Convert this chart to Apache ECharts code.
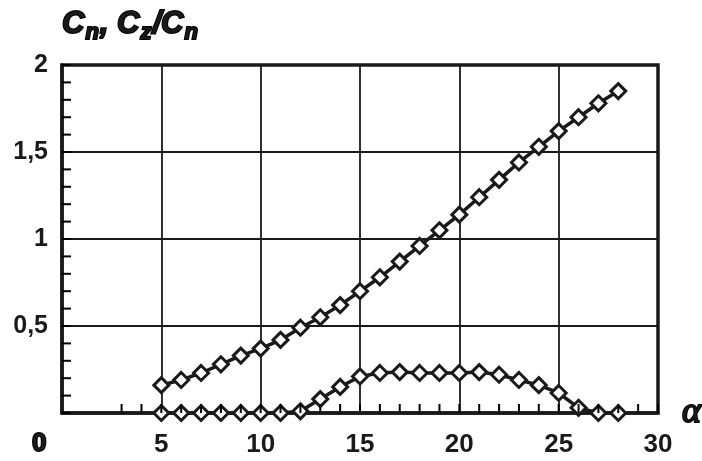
<!DOCTYPE html>
<html>
<head>
<meta charset="utf-8">
<script src="https://cdn.jsdelivr.net/npm/echarts@6/dist/echarts.min.js"></script>
<style>
  html, body { margin: 0; padding: 0; background: #fff; }
  #main { width: 702px; height: 461px; }
</style>
</head>
<body>
<div id="main"></div>
<script>
// angle of attack, deg
var alpha = [5, 6, 7, 8, 9, 10, 11, 12, 13, 14, 15, 16, 17, 18, 19, 20, 21, 22, 23, 24, 25, 26, 27, 28];
// upper curve Cn
var cn = [0.16, 0.19, 0.23, 0.28, 0.33, 0.37, 0.42, 0.49, 0.55, 0.62, 0.70, 0.78, 0.87, 0.96, 1.05, 1.14, 1.24, 1.34, 1.44, 1.53, 1.62, 1.70, 1.78, 1.85];
// lower curve Cz/Cn
var czcn = [0, 0, 0, 0, 0, 0, 0, 0.01, 0.08, 0.15, 0.21, 0.23, 0.235, 0.23, 0.23, 0.23, 0.235, 0.22, 0.19, 0.16, 0.115, 0.03, 0, 0];
var xTicks = [0, 5, 10, 15, 20, 25, 30];
var yTicks = [0, 0.5, 1, 1.5, 2];

var chart = echarts.init(document.getElementById('main'));

function pairs(ys) {
    return alpha.map(function (a, i) { return [a, ys[i]]; });
}

var ink = '#1a1a1a';
var lineStyle = { color: ink, width: 3.5 };
var itemStyle = { color: '#fff', borderColor: ink, borderWidth: 3 };

var xMin = xTicks[0], xMax = xTicks[xTicks.length - 1];
var yMin = yTicks[0], yMax = yTicks[yTicks.length - 1];

var option = {
    backgroundColor: '#fff',
    animation: false,
    grid: {
        left: 62, right: 44, top: 65, bottom: 48,
        show: true, borderColor: ink, borderWidth: 3.5
    },
    xAxis: {
        type: 'value',
        min: xMin, max: xMax, interval: 5,
        axisLine: { show: true, lineStyle: { color: ink, width: 3.5 } },
        axisTick: { show: false },
        splitLine: { show: true, lineStyle: { color: ink, width: 1.8 } },
        axisLabel: {
            margin: 19,
            fontFamily: 'Liberation Sans', fontWeight: 'bold', fontSize: 26, color: ink,
            formatter: function (v) { return v === 0 ? '' : String(v); }
        }
    },
    yAxis: {
        type: 'value',
        min: yMin, max: yMax, interval: 0.5,
        axisLine: { show: true, lineStyle: { color: ink, width: 3.5 } },
        axisTick: { show: false },
        splitLine: { show: true, lineStyle: { color: ink, width: 1.8 } },
        axisLabel: {
            margin: 14,
            fontFamily: 'Liberation Sans', fontWeight: 'bold', fontSize: 25, color: ink,
            formatter: function (v) { return v === 0 ? '' : String(v).replace('.', ','); }
        }
    },
    graphic: [
        {
            id: 'zero', type: 'text', left: 31, top: 430,
            style: { text: '0', font: 'bold 26px "Liberation Sans"', fill: ink }
        },
        {
            id: 'alpha', type: 'text', left: 681, top: 394,
            style: { text: 'α', font: 'italic 36px "Liberation Serif"', fill: ink }
        },
        {
            id: 'title', type: 'text', left: 61, top: 8,
            style: {
                text: '{c|C}{s|n}{c|, C}{s|z}{c|/C}{s|n}',
                rich: {
                    c: { font: 'italic bold 31px "Liberation Sans"', fill: ink, lineHeight: 30, verticalAlign: 'top' },
                    s: { font: 'italic bold 22px "Liberation Sans"', fill: ink, lineHeight: 22, padding: [13, 1, 0, 1], verticalAlign: 'top' }
                }
            }
        }
    ],
    series: [
        {
            name: 'Cn', type: 'line', data: pairs(cn),
            symbol: 'diamond', symbolSize: 15,
            lineStyle: lineStyle, itemStyle: itemStyle, z: 3
        },
        {
            name: 'Cz/Cn', type: 'line', data: pairs(czcn),
            symbol: 'diamond', symbolSize: 15,
            lineStyle: lineStyle, itemStyle: itemStyle, z: 3
        }
    ]
};

chart.setOption(option);

// small inside ticks (every 1 deg, every 0.1), placed through the chart's own scales
var ticks = [];
for (var i = 0; i <= (xMax - xMin); i++) {
    var px = chart.convertToPixel({ gridIndex: 0 }, [xMin + i, yMin]);
    ticks.push({
        type: 'line', z: 50,
        shape: { x1: px[0], y1: px[1], x2: px[0], y2: px[1] - 9 },
        style: { stroke: '#000', lineWidth: 2 }
    });
}
for (var j = 0; j <= Math.round((yMax - yMin) * 10); j++) {
    var py = chart.convertToPixel({ gridIndex: 0 }, [xMin, yMin + j / 10]);
    ticks.push({
        type: 'line', z: 50,
        shape: { x1: py[0], y1: py[1], x2: py[0] + 9, y2: py[1] },
        style: { stroke: '#000', lineWidth: 2 }
    });
}
chart.setOption({ graphic: ticks });
</script>
</body>
</html>
